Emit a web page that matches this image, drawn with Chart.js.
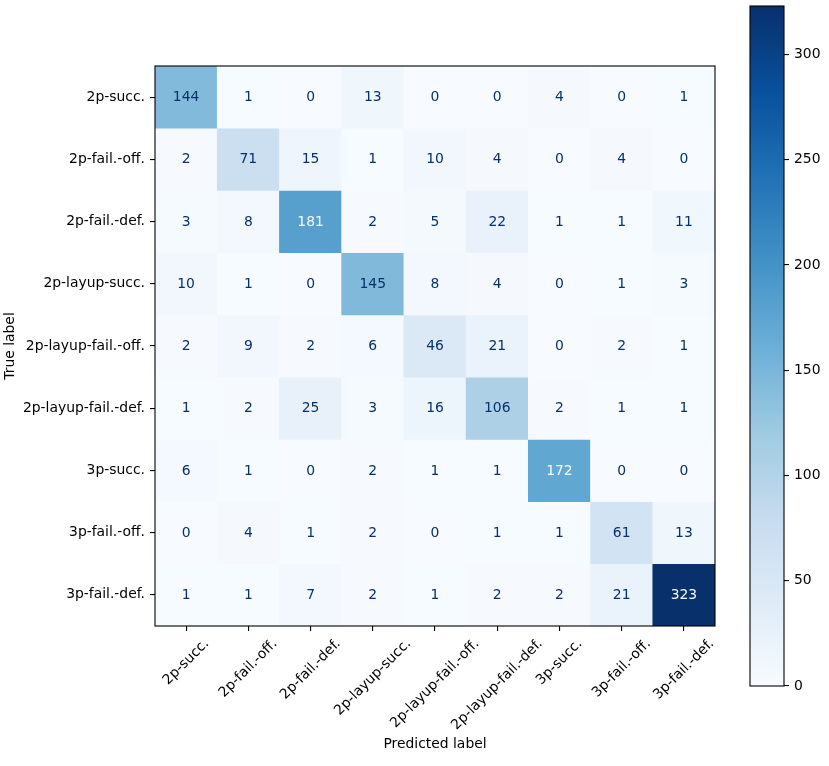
<!DOCTYPE html>
<html><head><meta charset="utf-8">
<script src="https://cdn.jsdelivr.net/npm/chart.js@4.4.0/dist/chart.umd.min.js"></script>
<style>
html,body{margin:0;padding:0;background:#fff;}
#wrap{position:relative;width:829px;height:766px;}
canvas{position:absolute;left:0;top:0;}
</style>
</head><body>
<div id="wrap"><canvas id="cm" width="829" height="766"></canvas><canvas id="cb" width="829" height="766"></canvas></div>
<script>
// ---- data ----
const classLabels = ["2p-succ.", "2p-fail.-off.", "2p-fail.-def.", "2p-layup-succ.", "2p-layup-fail.-off.", "2p-layup-fail.-def.", "3p-succ.", "3p-fail.-off.", "3p-fail.-def."];
const row0 = [144, 1, 0, 13, 0, 0, 4, 0, 1];
const row1 = [2, 71, 15, 1, 10, 4, 0, 4, 0];
const row2 = [3, 8, 181, 2, 5, 22, 1, 1, 11];
const row3 = [10, 1, 0, 145, 8, 4, 0, 1, 3];
const row4 = [2, 9, 2, 6, 46, 21, 0, 2, 1];
const row5 = [1, 2, 25, 3, 16, 106, 2, 1, 1];
const row6 = [6, 1, 0, 2, 1, 1, 172, 0, 0];
const row7 = [0, 4, 1, 2, 0, 1, 1, 61, 13];
const row8 = [1, 1, 7, 2, 1, 2, 2, 21, 323];
const matrix = [row0, row1, row2, row3, row4, row5, row6, row7, row8];
const colorbarTicks = [0, 50, 100, 150, 200, 250, 300];
const xTitle = "Predicted label";
const yTitle = "True label";

// ---- colormap (matplotlib Blues) ----
const bluesStops = ["#f7fbff", "#deebf7", "#c6dbef", "#9ecae1", "#6baed6", "#4292c6", "#2171b5", "#08519c", "#08306b"];
function hexToRgb(h){ return [parseInt(h.slice(1,3),16), parseInt(h.slice(3,5),16), parseInt(h.slice(5,7),16)]; }
const bluesRgb = bluesStops.map(hexToRgb);
function blues(t){
  t = Math.max(0, Math.min(1, t));
  const p = t * (bluesRgb.length - 1);
  const k = Math.min(Math.floor(p), bluesRgb.length - 2);
  const f = p - k;
  const a = bluesRgb[k], b = bluesRgb[k+1];
  return 'rgb(' + [0,1,2].map(i => Math.round(a[i] + (b[i]-a[i])*f)).join(',') + ')';
}
const allVals = matrix.flat();
const vmin = Math.min(...allVals), vmax = Math.max(...allVals);
const thresh = (vmin + vmax) / 2;

const FONT_FAMILY = "'DejaVu Sans', sans-serif";
const FONT_SIZE = 13.9;
Chart.defaults.color = '#000';
Chart.defaults.font.family = FONT_FAMILY;
Chart.defaults.font.size = FONT_SIZE;

const datasets = matrix.map((row, i) => ({
  label: classLabels[i],
  data: row.map(() => [i - 0.5, i + 0.5]),
  backgroundColor: row.map(v => blues((v - vmin) / (vmax - vmin))),
  borderWidth: 0,
  grouped: false,
  barPercentage: 1,
  categoryPercentage: 1
}));

const cmPlugin = {
  id: 'cmDecor',
  afterDatasetsDraw(chart){
    const ctx = chart.ctx;
    ctx.save();
    ctx.font = FONT_SIZE + 'px ' + FONT_FAMILY;
    ctx.textAlign = 'center';
    ctx.textBaseline = 'middle';
    chart.data.datasets.forEach((ds, i) => {
      const meta = chart.getDatasetMeta(i);
      meta.data.forEach((el, j) => {
        const v = matrix[i][j];
        const c = el.getCenterPoint();
        ctx.fillStyle = v > thresh ? '#f7fbff' : '#08306b';
        ctx.fillText(String(v), c.x, c.y + 0.5);
      });
    });
    ctx.restore();
  },
  afterDraw(chart){
    const ctx = chart.ctx;
    const a = chart.chartArea;
    ctx.save();
    ctx.strokeStyle = '#000';
    ctx.lineWidth = 1.1;
    ctx.strokeRect(a.left, a.top, a.right - a.left, a.bottom - a.top);
    // rotated x tick labels (centered under tick, like matplotlib rotation=45)
    const xs = chart.scales.x;
    ctx.font = FONT_SIZE + 'px ' + FONT_FAMILY;
    ctx.fillStyle = '#000';
    ctx.textAlign = 'center';
    ctx.textBaseline = 'middle';
    const top = a.bottom + 4.9 + 4.9;
    const h = FONT_SIZE * 1.15;
    classLabels.forEach((lab, i) => {
      const x = xs.getPixelForTick(i);
      const w = ctx.measureText(lab).width;
      const cy = top + (w + h) * Math.SQRT1_2 / 2;
      ctx.save();
      ctx.translate(x, cy);
      ctx.rotate(-Math.PI / 4);
      ctx.fillText(lab, 0, 0);
      ctx.restore();
    });
    ctx.restore();
  }
};

new Chart(document.getElementById('cm'), {
  type: 'bar',
  data: { labels: classLabels, datasets },
  options: {
    responsive: false,
    animation: false,
    devicePixelRatio: 1,
    layout: { padding: { top: 66, right: 114, bottom: 0, left: 0 } },
    plugins: { legend: { display: false }, tooltip: { enabled: false } },
    scales: {
      x: {
        type: 'category',
        offset: true,
        grid: { offset: false, drawOnChartArea: false, drawTicks: true, tickLength: 5, color: '#000', lineWidth: 1.1 },
        border: { display: false },
        ticks: { display: false },
        title: { display: true, text: xTitle, padding: { top: 0, bottom: 13.5 }, font: { size: FONT_SIZE } },
        afterFit(s){ s.height = 140; }
      },
      y: {
        type: 'linear',
        min: -0.5, max: 8.5,
        reverse: true,
        grid: { drawOnChartArea: false, drawTicks: true, tickLength: 5, color: '#000', lineWidth: 1.1 },
        border: { display: false },
        ticks: { padding: 5, color: '#000', callback: v => classLabels[v] },
        afterBuildTicks(s){ s.ticks = classLabels.map((_, i) => ({ value: i })); },
        title: { display: true, text: yTitle, padding: { top: 2, bottom: 0 }, font: { size: FONT_SIZE } },
        afterFit(s){ s.width = 155; }
      }
    }
  },
  plugins: [cmPlugin]
});

// ---- colorbar ----
const cbPlugin = {
  id: 'cbFrame',
  afterDraw(chart){
    const ctx = chart.ctx, a = chart.chartArea;
    ctx.save();
    ctx.strokeStyle = '#000';
    ctx.lineWidth = 1.1;
    ctx.strokeRect(a.left, a.top, a.right - a.left, a.bottom - a.top);
    ctx.restore();
  }
};
new Chart(document.getElementById('cb'), {
  type: 'bar',
  data: {
    labels: ['colorbar'],
    datasets: [{
      data: [[vmin, vmax]],
      borderWidth: 0,
      barPercentage: 1,
      categoryPercentage: 1,
      backgroundColor: (c) => {
        const chart = c.chart;
        if (!chart.chartArea) return bluesStops[0];
        const ys = chart.scales.y;
        const g = chart.ctx.createLinearGradient(0, ys.getPixelForValue(vmin), 0, ys.getPixelForValue(vmax));
        bluesStops.forEach((s, k) => g.addColorStop(k / (bluesStops.length - 1), s));
        return g;
      }
    }]
  },
  options: {
    responsive: false,
    animation: false,
    devicePixelRatio: 1,
    layout: { padding: { top: 6, right: 0, bottom: 80, left: 750 } },
    plugins: { legend: { display: false }, tooltip: { enabled: false } },
    scales: {
      x: { type: 'category', display: false, offset: true },
      y: {
        type: 'linear', position: 'right',
        min: vmin, max: vmax,
        grid: { drawOnChartArea: false, drawTicks: true, tickLength: 5, color: '#000', lineWidth: 1.1 },
        border: { display: false },
        ticks: { padding: 5, color: '#000' },
        afterBuildTicks(s){ s.ticks = colorbarTicks.map(v => ({ value: v })); },
        afterFit(s){ s.width = 45; s.paddingTop = 0; s.paddingBottom = 0; }
      }
    }
  },
  plugins: [cbPlugin]
});
</script>
</body></html>
